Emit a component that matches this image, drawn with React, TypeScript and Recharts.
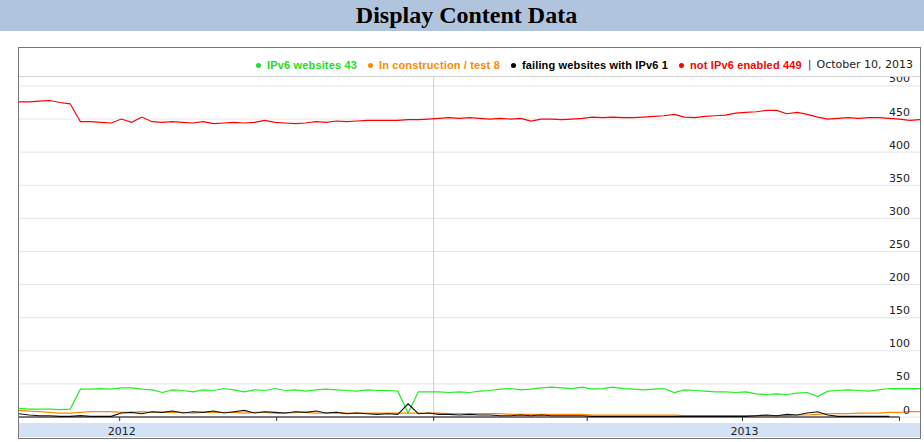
import React from 'react';
import { LineChart, Line, XAxis, YAxis, CartesianGrid, ReferenceLine } from 'recharts';

// day offsets relative to 1 Jan 2012
const days = [-58, -52, -46, -40, -34, -28, -22, -16, -10, -4, 2, 8, 14, 20, 26, 32, 38, 44, 50, 56, 62, 68, 74, 80, 86, 92, 98, 104, 110, 116, 122, 128, 134, 140, 146, 152, 158, 164, 170, 176, 182, 188, 194, 200, 206, 212, 218, 224, 230, 236, 242, 248, 254, 260, 266, 272, 278, 284, 290, 296, 302, 308, 314, 320, 326, 332, 338, 344, 350, 356, 362, 368, 374, 380, 386, 392, 398, 404, 410, 416, 422, 428, 434, 440, 446, 452, 458, 464, 470];

const ipv6Websites = [13, 12, 12, 12, 11, 12, 42, 42, 43, 42, 44, 44, 42, 41, 37, 41, 40, 38, 41, 40, 43, 41, 38, 41, 40, 43, 40, 41, 39, 41, 42, 41, 40, 39, 41, 40, 40, 39, 6, 38, 38, 38, 37, 38, 37, 39, 40, 42, 43, 41, 42, 44, 45, 44, 43, 45, 42, 43, 45, 43, 42, 41, 42, 43, 37, 41, 40, 39, 38, 38, 37, 38, 35, 34, 35, 34, 36, 37, 31, 39, 40, 41, 40, 39, 41, 43, 43, 43, 43];

const inConstruction = [10, 9, 8, 7, 6, 6, 7, 8, 8, 8, 7, 7, 8, 7, 7, 7, 7, 6, 7, 7, 7, 7, 6, 7, 7, 6, 6, 7, 7, 6, 6, 7, 6, 6, 6, 6, 6, 6, 6, 6, 6, 6, 5, 5, 5, 5, 5, 5, 4, 4, 4, 4, 4, 4, 4, 4, 3, 3, 3, 3, 3, 3, 3, 3, 3, 2, 2, 2, 2, 2, 2, 2, 2, 2, 2, 2, 3, 3, 4, 5, 5, 5, 6, 6, 6, 7, 7, 8, 8];

const failingWebsites = [5, 3, 2, 2, 1, 1, 2, 1, 1, 1, 6, 7, 5, 8, 7, 9, 6, 8, 7, 9, 6, 8, 10, 6, 8, 7, 6, 8, 7, 9, 6, 7, 5, 6, 5, 4, 5, 4, 20, 5, 6, 4, 4, 3, 4, 3, 3, 2, 2, 3, 2, 3, 2, 2, 2, 2, 1, 1, 1, 1, 1, 1, 1, 1, 1, 1, 1, 1, 1, 1, 1, 1, 2, 3, 2, 4, 3, 6, 8, 3, 1, 1, 1, 1, 1, 1, null, null, null];

const notIpv6Enabled = [476, 476, 477, 478, 475, 473, 446, 446, 445, 444, 450, 445, 453, 446, 445, 446, 445, 444, 446, 443, 444, 445, 444, 445, 448, 445, 444, 443, 444, 446, 445, 447, 446, 447, 448, 448, 448, 448, 449, 449, 450, 451, 452, 451, 452, 451, 450, 451, 450, 451, 447, 450, 450, 449, 450, 451, 453, 452, 453, 452, 452, 453, 454, 455, 457, 453, 452, 454, 455, 456, 459, 460, 461, 463, 463, 458, 460, 457, 453, 450, 451, 452, 451, 452, 452, 451, 450, 448, 449];

const yTicks = [0, 50, 100, 150, 200, 250, 300, 350, 400, 450, 500];
const xTicks = [1, 93, 185, 275, 366, 458];
const xTickLabels = ['2012', '', '', '', '2013', ''];

const legendItems = [
  { label: 'IPv6 websites 43', color: '#22dd22' },
  { label: 'In construction / test 8', color: '#ff8800' },
  { label: 'failing websites with IPv6 1', color: '#000000' },
  { label: 'not IPv6 enabled 449', color: '#ff0000' },
];
const legendDate = 'October 10, 2013';

const data = days.map((d, i) => ({
  day: d,
  ipv6: ipv6Websites[i],
  construction: inConstruction[i],
  failing: failingWebsites[i],
  notIpv6: notIpv6Enabled[i],
}));

const AXIS_FONT = 'DejaVu Sans, Verdana, sans-serif';

const YTick = (props: any) => {
  const { y, payload } = props;
  return (
    <text x={891} y={y - 3.5} textAnchor="end" fontSize={11} fontFamily={AXIS_FONT} fill="#222">
      {payload.value}
    </text>
  );
};

const XTick = (props: any) => {
  const { x, y, payload } = props;
  const idx = xTicks.indexOf(payload.value);
  const label = idx >= 0 ? xTickLabels[idx] : '';
  return (
    <g>
      <line x1={x} x2={x} y1={y} y2={y + 4} stroke="#333" strokeWidth={1} />
      {label ? (
        <text x={x + 2} y={y + 18} textAnchor="middle" fontSize={11} fontFamily={AXIS_FONT} fill="#222">
          {label}
        </text>
      ) : null}
    </g>
  );
};

export default function App() {
  return (
    <div style={{ position: 'absolute', left: 0, top: 0, width: 924, height: 442, background: '#fff', overflow: 'hidden' }}>
      <div
        style={{
          position: 'absolute',
          left: 0,
          top: 0,
          width: 924,
          height: 31,
          background: '#b0c4de',
          textAlign: 'center',
          lineHeight: '31px',
          fontFamily: '"Liberation Serif", "Times New Roman", serif',
          fontWeight: 'bold',
          fontSize: 24,
          color: '#000',
          paddingLeft: 9,
          boxSizing: 'border-box',
        }}
      >
        Display Content Data
      </div>
      <div
        style={{
          position: 'absolute',
          left: 18,
          top: 47,
          width: 903,
          height: 392,
          border: '1px solid #777',
          boxSizing: 'border-box',
        }}
      />
      <div style={{ position: 'absolute', left: 19, top: 423, width: 901, height: 14, background: '#d3e2f5' }} />
      <div style={{ position: 'absolute', left: 19, top: 48 }}>
        <LineChart width={901} height={389} data={data} margin={{ top: 28, right: 0, bottom: 0, left: 0 }}>
          <CartesianGrid horizontal vertical={false} stroke="#e4e4ee" />
          <XAxis
            dataKey="day"
            type="number"
            domain={[-58, 470]}
            ticks={xTicks}
            axisLine={false}
            tickLine={false}
            tickSize={0}
            tickMargin={0}
            height={20}
            tick={<XTick />}
            interval={0}
            allowDataOverflow
          />
          <YAxis
            orientation="right"
            mirror
            domain={[0, 515]}
            ticks={yTicks}
            axisLine={false}
            tickLine={false}
            tick={<YTick />}
            allowDataOverflow
            interval={0}
          />
          <ReferenceLine x={185} stroke="#cccccc" strokeWidth={1} />
          <Line type="linear" dataKey="notIpv6" stroke="#ff0000" strokeWidth={1.2} dot={false} isAnimationActive={false} />
          <Line type="linear" dataKey="ipv6" stroke="#22ee22" strokeWidth={1.2} dot={false} isAnimationActive={false} />
          <Line type="linear" dataKey="construction" stroke="#ff8800" strokeWidth={1.2} dot={false} isAnimationActive={false} />
          <Line type="linear" dataKey="failing" stroke="#111111" strokeWidth={1.1} dot={false} isAnimationActive={false} />
          <ReferenceLine segment={[{ x: -58, y: 0 }, { x: 458, y: 0 }]} stroke="#000" strokeWidth={1} />
        </LineChart>
      </div>
      <div
        style={{
          position: 'absolute',
          left: 19,
          top: 48,
          width: 901,
          height: 29,
          background: '#fff',
          borderBottom: '1px solid #d4d4d4',
          boxSizing: 'border-box',
          display: 'flex',
          justifyContent: 'flex-end',
          alignItems: 'flex-start',
          paddingTop: 11,
          paddingRight: 7,
          lineHeight: '12px',
          whiteSpace: 'nowrap',
        }}
      >
        {legendItems.map((it) => (
          <span
            key={it.label}
            style={{
              display: 'inline-flex',
              alignItems: 'center',
              marginLeft: 11,
              fontFamily: '"Liberation Sans", Arial, sans-serif',
              fontWeight: 'bold',
              fontSize: 11,
              letterSpacing: 0.15,
              color: it.color,
            }}
          >
            <span
              style={{
                display: 'inline-block',
                width: 5,
                height: 5,
                borderRadius: '50%',
                background: it.color,
                marginRight: 6,
              }}
            />
            {it.label}
          </span>
        ))}
        <span style={{ marginLeft: 6, marginRight: 5, fontFamily: AXIS_FONT, fontSize: 11, color: '#444' }}>|</span>
        <span style={{ fontFamily: AXIS_FONT, fontSize: 11, color: '#222' }}>{legendDate}</span>
      </div>
    </div>
  );
}
